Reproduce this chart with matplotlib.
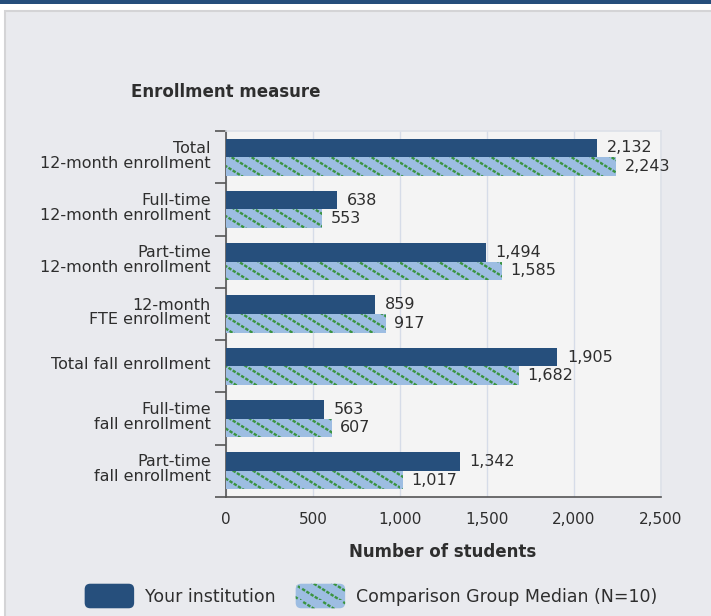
import matplotlib
matplotlib.use("Agg")
import matplotlib.pyplot as plt
import matplotlib.hatch as mhatch
import matplotlib.transforms as mtransforms
from matplotlib.patches import Rectangle, Patch, FancyBboxPatch
from matplotlib.legend_handler import HandlerPatch
from matplotlib.path import Path
import numpy as np

categories = ["Total\n12-month enrollment", "Full-time\n12-month enrollment",
              "Part-time\n12-month enrollment", "12-month\nFTE enrollment",
              "Total fall enrollment", "Full-time\nfall enrollment",
              "Part-time\nfall enrollment"]
your_institution = [2132, 638, 1494, 859, 1905, 563, 1342]
comparison_median = [2243, 553, 1585, 917, 1682, 607, 1017]
x_ticks = [0, 500, 1000, 1500, 2000, 2500]
x_tick_labels = ["0", "500", "1,000", "1,500", "2,000", "2,500"]
series_names = ["Your institution", "Comparison Group Median (N=10)"]

DARK = "#264f7c"
LIGHT = "#9dbde2"
HATCH = "#3a9440"
TEXT = "#2e2e2e"


# dotted diagonal hatch (top-left to bottom-right), used for "\\"
class DottedDiagonal(mhatch.HatchPatternBase):
    def __init__(self, hatch, density):
        self.n_lines = 5 if "\\" in hatch else 0
        self.slope = 1.6
        self.m = 38
        self.num_vertices = self.n_lines * self.m * 2

    def set_vertices_and_codes(self, vertices, codes):
        d = np.array([self.slope, -1.0]) / np.hypot(self.slope, 1.0)
        seg = 0.011
        i = 0
        for k in range(self.n_lines):
            for j in range(self.m):
                yy = j / self.m
                xx = (k / self.n_lines - self.slope * yy) % 1.0
                vertices[i] = (xx, yy)
                vertices[i + 1] = (xx + seg * d[0], yy + seg * d[1])
                codes[i] = Path.MOVETO
                codes[i + 1] = Path.LINETO
                i += 2


mhatch._hatch_types = [DottedDiagonal]

plt.rcParams["font.family"] = ["DejaVu Sans"]
plt.rcParams["hatch.linewidth"] = 1.7

W, H = 711, 616
fig = plt.figure(figsize=(W / 100, H / 100), dpi=100, facecolor="white")

# background decorations
fig.patches.append(Rectangle((0, 1 - 4 / H), 1, 4 / H, transform=fig.transFigure,
                             facecolor="#254e7b", edgecolor="none", zorder=-2))
fig.patches.append(Rectangle((5 / W, -0.01), 1, 1 - 11 / H + 0.01, transform=fig.transFigure,
                             facecolor="#e9eaee", edgecolor="#d4d4d6", linewidth=1.5, zorder=-2))

ax = fig.add_axes([226 / W, 1 - 497 / H, (661 - 226) / W, (497 - 131) / H])
ax.set_zorder(1)
ax.set_facecolor("#f4f4f4")

y = np.arange(len(categories))
h = 0.355
ax.barh(y - h / 2, your_institution, height=h, color=DARK, edgecolor="none", zorder=3)
ax.barh(y + h / 2, comparison_median, height=h, color=LIGHT, edgecolor=HATCH,
        linewidth=0, hatch="\\", zorder=3)

fs = 11.5
for yi, v in zip(y, your_institution):
    ax.annotate(f"{v:,}", (v, yi - h / 2), xytext=(7, 0), textcoords="offset points",
                va="center", ha="left", fontsize=fs, color=TEXT)
for yi, v in zip(y, comparison_median):
    ax.annotate(f"{v:,}", (v, yi + h / 2), xytext=(6, 0), textcoords="offset points",
                va="center", ha="left", fontsize=fs, color=TEXT)

ax.set_xlim(0, 2500)
ax.set_ylim(len(categories) - 0.5, -0.5)

ax.set_xticks(x_ticks)
ax.set_xticklabels(x_tick_labels, fontsize=11, color=TEXT)
ax.tick_params(axis="x", length=0, pad=11)
ax.grid(axis="x", color="#d6dce8", linewidth=1, zorder=0)
ax.set_axisbelow(True)

ax.set_yticks(np.arange(len(categories) + 1) - 0.5)
ax.set_yticklabels([])
ax.tick_params(axis="y", which="major", length=8, width=1.2, color="#555555")
ax.set_yticks(y, minor=True)
ax.set_yticklabels(categories, minor=True, fontsize=fs, color=TEXT, linespacing=1.0)
ax.tick_params(axis="y", which="minor", length=0, pad=11)
shift = mtransforms.ScaledTranslation(0, 3 / 100, fig.dpi_scale_trans)
for lab in ax.get_yticklabels(minor=True):
    lab.set_transform(lab.get_transform() + shift)

for s in ["top", "right"]:
    ax.spines[s].set_color("#dde1e8")
    ax.spines[s].set_linewidth(1.2)
for s in ["left", "bottom"]:
    ax.spines[s].set_color("#555555")
    ax.spines[s].set_linewidth(1.2)

fig.text(131 / W, 1 - 92 / H, "Enrollment measure", fontsize=12, fontweight="bold",
         color=TEXT, ha="left", va="center")
fig.text(443 / W, 1 - 552 / H, "Number of students", fontsize=12, fontweight="bold",
         color=TEXT, ha="center", va="center")


class RoundHandler(HandlerPatch):
    def create_artists(self, legend, orig_handle, xdescent, ydescent, width, height,
                       fontsize, trans):
        p = FancyBboxPatch((-xdescent, -ydescent), width, height,
                           boxstyle="round,pad=0,rounding_size=4")
        self.update_prop(p, orig_handle, legend)
        p.set_transform(trans)
        return [p]


handles = [Patch(facecolor=DARK, edgecolor="none"),
           Patch(facecolor=LIGHT, edgecolor=HATCH, linewidth=0, hatch="\\")]
fig.legend(handles, series_names, loc="center", bbox_to_anchor=(371 / W, 1 - 596 / H),
           ncol=2, frameon=False, fontsize=12.5, handlelength=2.85, handleheight=1.8,
           handletextpad=0.63, columnspacing=1.15, borderpad=0, labelcolor=TEXT,
           handler_map={Patch: RoundHandler()})

fig.savefig("out.png", dpi=100, facecolor="white")
